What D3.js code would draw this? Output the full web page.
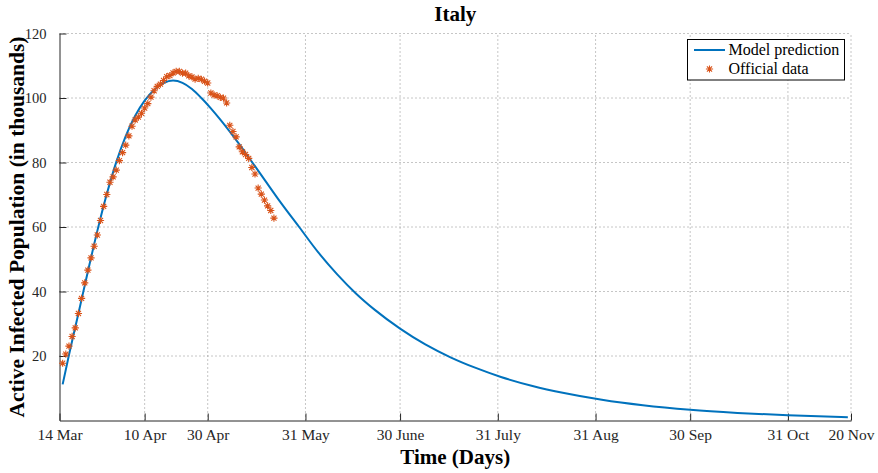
<!DOCTYPE html>
<html><head><meta charset="utf-8">
<script src="https://cdn.jsdelivr.net/npm/d3@7"></script>
<style>body{margin:0;background:#fff}svg{display:block}</style>
</head><body><svg id="c" width="878" height="473"></svg>
<script>
// ---- data ----
const tickDays = [0, 27, 47, 78, 108, 139, 170, 200, 231, 251];
const tickLabels = ["14 Mar","10 Apr","30 Apr","31 May","30 June","31 July","31 Aug","30 Sep","31 Oct","20 Nov"];
const yTicks = [20, 40, 60, 80, 100, 120];
const modelDays = [1, 3, 6, 9, 12, 15, 18, 21, 24, 27, 30, 33, 36, 39, 42, 45, 48, 51, 54, 57, 60, 65, 70, 76, 82, 88, 94, 100, 108, 116, 124, 132, 140, 150, 160, 172, 185, 200, 215, 231, 250];
const modelValues = [11.2, 20.3, 33.2, 46.2, 58.8, 70.2, 80.1, 88.2, 94.5, 99.2, 102.5, 104.6, 105.4, 104.7, 102.8, 100.0, 96.8, 93.3, 89.6, 85.7, 81.6, 74.7, 67.8, 60.0, 52.2, 45.4, 39.4, 34.3, 28.5, 23.6, 19.6, 16.3, 13.5, 10.7, 8.5, 6.4, 4.7, 3.3, 2.35, 1.62, 1.04];
const officialStartDay = 1;
const officialValues = [17.75, 20.6, 23.07, 26.06, 28.71, 33.19, 37.86, 42.68, 46.64, 50.42, 54.03, 57.52, 62.01, 66.41, 70.07, 73.88, 75.53, 77.64,
  80.57, 83.05, 85.39, 88.27, 91.25, 93.19, 94.07, 95.26, 96.88, 98.27, 100.27, 102.25, 103.62, 104.29, 105.42, 106.61, 106.96, 107.77, 108.26, 108.24,
  107.71, 107.7, 106.85, 106.53, 105.85, 106.1, 105.81, 105.21, 104.66, 101.55,
  100.94, 100.7, 100.18, 99.98, 98.47, 91.53, 89.62, 87.96, 84.84, 83.32, 82.49, 81.27, 78.46, 76.44, 72.07, 70.19, 68.35, 66.55, 65.13, 62.75];

// ---- layout ----
const L = 59.5, R = 851, T = 33.5, B = 420.5;
const svg = d3.select("#c");
const x = d3.scaleLinear().domain([0, 251]).range([L, R]);
const y = d3.scaleLinear().domain([0, 120]).range([B, T]);
const serif = "'Liberation Serif','Times New Roman',serif";
const blue = "#0072BD", orange = "#D95319";

// grid
const g = svg.append("g");
g.selectAll("line.gx").data(tickDays.slice(1)).join("line")
  .attr("x1", d => x(d)).attr("x2", d => x(d)).attr("y1", B).attr("y2", T)
  .attr("stroke", "#8c8c8c").attr("stroke-width", 1).attr("stroke-dasharray", "1,3");
g.selectAll("line.gy").data(yTicks).join("line")
  .attr("x1", L).attr("x2", R).attr("y1", d => y(d)).attr("y2", d => y(d))
  .attr("stroke", "#8c8c8c").attr("stroke-width", 1).attr("stroke-dasharray", "1,3");

// axes
const xAxis = d3.axisBottom(x).tickValues(tickDays).tickFormat((d, i) => tickLabels[i]).tickSizeInner(-7).tickSizeOuter(0).tickPadding(8);
const gx = svg.append("g").attr("transform", `translate(0,${B})`).call(xAxis);
const yAxis = d3.axisLeft(y).tickValues(yTicks).tickSizeInner(-7).tickSizeOuter(0).tickPadding(13);
const gy = svg.append("g").attr("transform", `translate(${L},0)`).call(yAxis);
[gx, gy].forEach(a => {
  a.select(".domain").attr("stroke", "#262626").attr("stroke-width", 1);
  a.selectAll(".tick line").attr("stroke", "#262626");
  a.selectAll(".tick text").attr("font-family", serif).attr("fill", "#262626");
});
gx.selectAll(".tick text").attr("font-size", 15.5);
gy.selectAll(".tick text").attr("font-size", 14.5);

// model line
const pts = modelDays.map((d, i) => [d, modelValues[i]]);
svg.append("path").datum(pts)
  .attr("d", d3.line().x(d => x(d[0])).y(d => y(d[1])).curve(d3.curveMonotoneX))
  .attr("fill", "none").attr("stroke", blue).attr("stroke-width", 2);

// official data asterisks
function star(r) {
  const a = r * Math.SQRT1_2;
  return `M${-r},0L${r},0M0,${-r}L0,${r}M${-a},${-a}L${a},${a}M${-a},${a}L${a},${-a}`;
}
svg.append("g").selectAll("path").data(officialValues).join("path")
  .attr("transform", (d, i) => `translate(${x(officialStartDay + i)},${y(d)})`)
  .attr("d", star(3.6)).attr("stroke", orange).attr("stroke-width", 1.1).attr("fill", "none");

// title & labels
svg.append("text").attr("x", (L + R) / 2).attr("y", 21).attr("text-anchor", "middle")
  .attr("font-family", serif).attr("font-weight", "bold").attr("font-size", 21).text("Italy");
svg.append("text").attr("x", (L + R) / 2).attr("y", 464).attr("text-anchor", "middle")
  .attr("font-family", serif).attr("font-weight", "bold").attr("font-size", 21).text("Time (Days)");
svg.append("text").attr("transform", `translate(24,${(T + B) / 2}) rotate(-90)`).attr("text-anchor", "middle")
  .attr("font-family", serif).attr("font-weight", "bold").attr("font-size", 21.5).text("Active Infected Population (in thousands)");

// legend
const lg = svg.append("g");
lg.append("rect").attr("x", 687.5).attr("y", 39.5).attr("width", 157).attr("height", 40.5)
  .attr("fill", "#fff").attr("stroke", "#000").attr("stroke-width", 1);
lg.append("line").attr("x1", 694).attr("x2", 725).attr("y1", 50).attr("y2", 50).attr("stroke", blue).attr("stroke-width", 2);
lg.append("path").attr("transform", "translate(709.5,69)").attr("d", star(3.6)).attr("stroke", orange).attr("stroke-width", 1.1);
lg.append("text").attr("x", 728.5).attr("y", 55).attr("font-family", serif).attr("font-size", 16).text("Model prediction");
lg.append("text").attr("x", 728.5).attr("y", 74).attr("font-family", serif).attr("font-size", 16).text("Official data");
</script></body></html>
